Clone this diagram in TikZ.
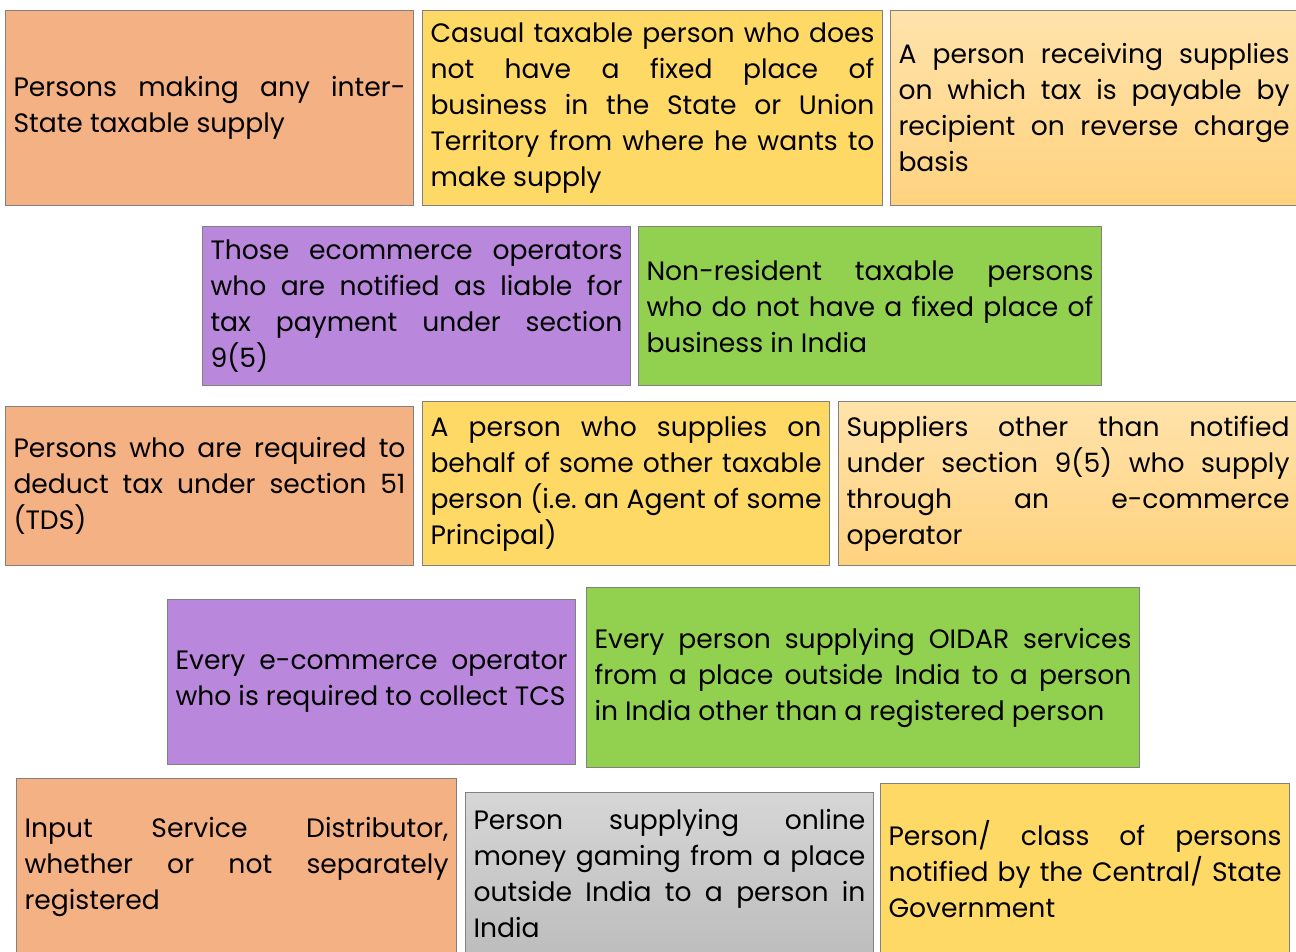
\documentclass[tikz,border=0pt]{standalone}
\usepackage{fontspec}
\setmainfont{Poppins}
\usepackage{tikz}
\definecolor{salmon}{HTML}{F4B183}
\definecolor{gold}{HTML}{FFD966}
\definecolor{peachtop}{HTML}{FFE3AB}
\definecolor{peachbot}{HTML}{FFD27F}
\definecolor{lilac}{HTML}{B987DB}
\definecolor{leaf}{HTML}{92D050}
\definecolor{greytop}{HTML}{D6D6D6}
\definecolor{greybot}{HTML}{BDBDBD}
\definecolor{boxline}{HTML}{858080}
\frenchspacing
\hyphenpenalty=10000
\hbadness=10000

\begin{document}
\begin{tikzpicture}[x=1pt,y=-1pt,
  box/.style={rectangle,draw=boxline,line width=1pt,anchor=north west,
    inner xsep=8pt,inner ysep=0pt,align=justify,
    font=\fontsize{26.6}{36}\selectfont},
  orange/.style={box,fill=salmon},
  yellow/.style={box,fill=gold},
  peach/.style={box,top color=peachtop,bottom color=peachbot},
  purple/.style={box,fill=lilac},
  green/.style={box,fill=leaf},
  grey/.style={box,top color=greytop,bottom color=greybot}]
\useasboundingbox (0,0) rectangle (1296,952);

\node[orange,minimum width=408pt,minimum height=195pt,text width=392pt] (interstate) at (5,10)
  {Persons making any inter-\linebreak State taxable supply};
\node[yellow,minimum width=460pt,minimum height=195pt,text width=444pt] (casual) at (422,10)
  {Casual taxable person who does\linebreak not have a fixed place of\linebreak business in the State or Union\linebreak Territory from where he wants to\linebreak make supply};
\node[peach,minimum width=407pt,minimum height=195pt,text width=391pt] (reverse) at (890,10)
  {A person receiving supplies\linebreak on which tax is payable by\linebreak recipient on reverse charge\linebreak basis};

\node[purple,minimum width=428pt,minimum height=159pt,text width=412pt] (ecoop) at (202,226)
  {Those ecommerce operators\linebreak who are notified as liable for\linebreak tax payment under section\linebreak 9(5)};
\node[green,minimum width=463pt,minimum height=159pt,text width=447pt] (nonres) at (638,226)
  {Non-resident taxable persons\linebreak who do not have a fixed place of\linebreak business in India};

\node[orange,minimum width=408pt,minimum height=159pt,text width=392pt] (tds) at (5,406)
  {Persons who are required to\linebreak deduct tax under section 51\linebreak (TDS)};
\node[yellow,minimum width=407pt,minimum height=164pt,text width=391pt] (agent) at (422,401)
  {A person who supplies on\linebreak behalf of some other taxable\linebreak person (i.e. an Agent of some\linebreak Principal)};
\node[peach,minimum width=459pt,minimum height=164pt,text width=443pt] (suppliers) at (838,401)
  {Suppliers other than notified\linebreak under section 9(5) who supply\linebreak through an e-commerce\linebreak operator};

\node[purple,minimum width=408pt,minimum height=165pt,text width=392pt] (tcs) at (167,599)
  {Every e-commerce operator\linebreak who is required to collect TCS};
\node[green,minimum width=553pt,minimum height=180pt,text width=537pt] (oidar) at (586,587)
  {Every person supplying OIDAR services\linebreak from a place outside India to a person\linebreak in India other than a registered person};

\node[orange,minimum width=440pt,minimum height=176pt,text width=424pt] (isd) at (16,778)
  {Input Service Distributor,\linebreak whether or not separately\linebreak registered};
\node[grey,minimum width=408pt,minimum height=162pt,text width=392pt] (gaming) at (465,792)
  {Person supplying online\linebreak money gaming from a place\linebreak outside India to a person in\linebreak India};
\node[yellow,minimum width=409pt,minimum height=171pt,text width=393pt] (notified) at (880,783)
  {Person/ class of persons\linebreak notified by the Central/ State\linebreak Government};
\end{tikzpicture}
\end{document}
